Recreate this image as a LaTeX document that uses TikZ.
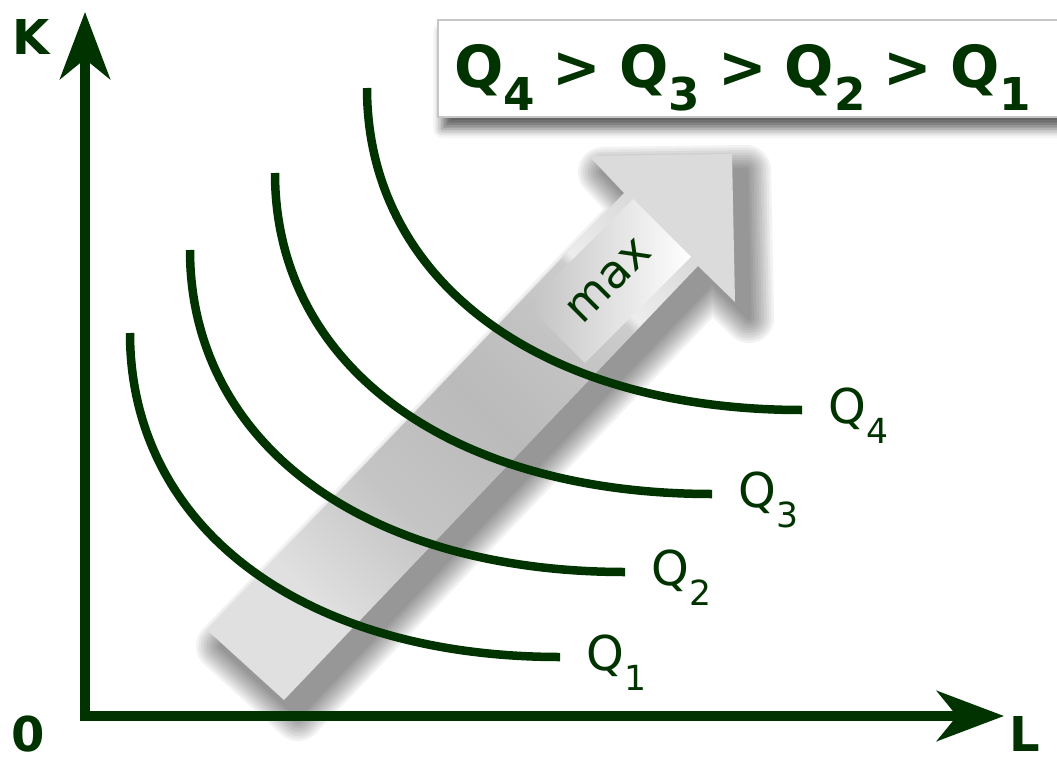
\documentclass[tikz,border=0pt]{standalone}
\usepackage{fontspec}
\setmainfont{DejaVu Sans}
\usepackage{graphicx}
\usetikzlibrary{arrows.meta,shadows.blur}
\definecolor{qgreen}{RGB}{0,51,0}
\definecolor{shA}{gray}{0.88}
\definecolor{shB}{gray}{0.77}
\definecolor{shC}{gray}{0.73}
\definecolor{shD}{gray}{0.76}
\definecolor{shE}{gray}{0.80}
\definecolor{shF}{gray}{0.93}
\definecolor{shG}{gray}{0.86}
\pgfdeclarehorizontalshading{maxshade}{100bp}{color(0bp)=(shA); color(28bp)=(shA); color(40bp)=(shB); color(52bp)=(shC); color(60bp)=(shD); color(67bp)=(shE); color(68bp)=(shF); color(75bp)=(shG); color(100bp)=(shG)}
\newcommand\qsub[3][0.27em]{\raisebox{-#1}{\scalebox{#2}{#3}}}
\newcommand\qgt{\hspace{18pt}>\hspace{18pt}}

\begin{document}
\begin{tikzpicture}[x=1pt,y=-1pt,
axis/.style={draw=qgreen,line width=10pt,line join=miter,{Stealth[length=67pt,width=50pt,inset=20pt]}-{Stealth[length=67pt,width=50pt,inset=20pt]}},
curve/.style={draw=qgreen,line width=8.5pt},
arrowshape/.style={insert path={(207,630) -- (624,193) -- (589,156) -- (732,154) -- (735,302) -- (698,266) -- (284,700) -- cycle}},
qlabel/.style={anchor=base west,xshift=22pt,yshift=-13pt,inner sep=0pt,text=qgreen,font=\fontsize{48}{56}\selectfont},
axlabel/.style={inner sep=0pt,text=qgreen,font=\bfseries\fontsize{48}{56}\selectfont},
plate/.style={rotate=45,left color=shD,right color=white,minimum width=150pt,minimum height=82pt,inner sep=0pt,text=qgreen,font=\fontsize{46}{54}\selectfont},
rankbox/.style={draw=gray!45,line width=2pt,fill=white,minimum width=640pt,minimum height=97pt,blur shadow={shadow xshift=4pt,shadow yshift=-12pt,shadow blur radius=9pt,shadow opacity=60}},
ranktext/.style={anchor=base west,inner sep=0pt,text=qgreen,font=\bfseries\fontsize{58}{68}\selectfont}]
\useasboundingbox (0,0) rectangle (1057,762);
% growth arrow with soft shadow
\begin{scope}[shift={(14,16)}]
\foreach \w in {50,45,...,5} {
  \begin{scope}[transparency group,opacity=0.05]
  \path[arrowshape,fill=black,draw=black,line width=\w pt,line join=round];
  \end{scope}}
\end{scope}
\shade[arrowshape,shading=maxshade,shading angle=45];
\node[plate] (max) at (609,281) {max};
% isoquants
\draw[curve] (130,333) .. controls (130,527) and (302,657) .. (560,657) node[qlabel] (q1) {Q\qsub[0.42em]{0.72}{1}};
\draw[curve] (190,250) .. controls (190,443) and (364,572) .. (625,572) node[qlabel] (q2) {Q\qsub[0.42em]{0.72}{2}};
\draw[curve] (275,173) .. controls (275,366) and (450,494) .. (712,494) node[qlabel] (q3) {Q\qsub[0.42em]{0.72}{3}};
\draw[curve] (367,88) .. controls (367,281) and (541,410) .. (802,410) node[qlabel] (q4) {Q\qsub[0.42em]{0.72}{4}};
% axes
\coordinate (ktip) at (85,12); \coordinate (origin) at (85,716); \coordinate (ltip) at (1004,716);
\draw[axis] (ktip) -- (origin) -- (ltip);
\node[axlabel] (k) at (31,37) {K};
\node[axlabel] (zero) at (28,734) {0};
\node[axlabel] (l) at (1025,734) {L};
% ranking
\node[rankbox,anchor=north west] (rank) at (437,19) {};
\node[ranktext] (order) at (454,88) {Q\qsub[0.38em]{0.78}{4}\qgt Q\qsub[0.38em]{0.78}{3}\qgt Q\qsub[0.38em]{0.78}{2}\qgt Q\qsub[0.38em]{0.78}{1}};
\end{tikzpicture}
\end{document}
